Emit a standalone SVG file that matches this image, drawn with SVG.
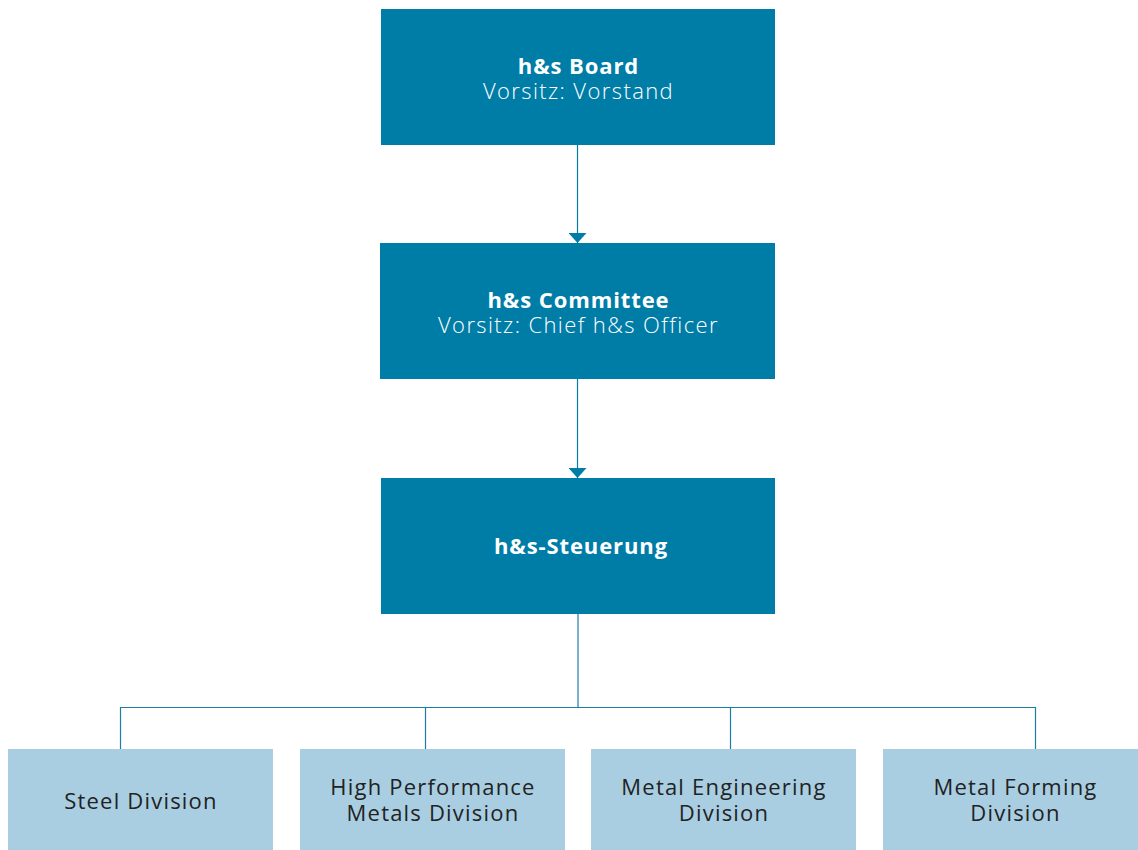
<svg xmlns="http://www.w3.org/2000/svg" width="1138" height="850" viewBox="0 0 1138 850">
<style>
.dark{fill:#007DA7}
.light{fill:#A9CEE2}
.t{font-family:"Open Sans",Lato,sans-serif;font-size:22px;text-anchor:middle}
.w{fill:#ffffff}
.b{font-weight:700;letter-spacing:0.9px}
.l{font-weight:300;letter-spacing:1.4px}
.k{fill:#222222;font-weight:400;letter-spacing:1.2px}
.c{stroke:#1B7FA5;stroke-width:1.2;fill:none}
.a{stroke:#007DA7;stroke-width:1.2;fill:none}
</style>
<defs>
<marker id="ah" markerWidth="10" markerHeight="18" refX="10" refY="9" orient="auto" markerUnits="userSpaceOnUse" viewBox="0 0 10 18">
<path d="M0,0 L10,9 L0,18 Z" fill="#007DA7"/>
</marker>
</defs>
<g id="connectors">
<line class="a" x1="577.5" y1="145" x2="577.5" y2="243" marker-end="url(#ah)"/>
<line class="a" x1="577.5" y1="379" x2="577.5" y2="478" marker-end="url(#ah)"/>
<line class="c" x1="578" y1="614" x2="578" y2="707.5"/>
<polyline class="c" points="120.5,749 120.5,707.5 1035.5,707.5 1035.5,749"/>
<line class="c" x1="425.5" y1="707.5" x2="425.5" y2="749"/>
<line class="c" x1="730.5" y1="707.5" x2="730.5" y2="749"/>
</g>
<g id="board">
<rect class="dark" x="381" y="9" width="394" height="136"/>
<text class="t w b" x="578.5" y="74">h&amp;s Board</text>
<text class="t w l" x="578.5" y="99">Vorsitz: Vorstand</text>
</g>
<g id="committee">
<rect class="dark" x="380" y="243" width="395" height="136"/>
<text class="t w b" x="578.5" y="308">h&amp;s Committee</text>
<text class="t w l" x="578.5" y="333">Vorsitz: Chief h&amp;s Officer</text>
</g>
<g id="steuerung">
<rect class="dark" x="381" y="478" width="394" height="136"/>
<text class="t w b" x="581" y="554">h&amp;s-Steuerung</text>
</g>
<g id="steel">
<rect class="light" x="8" y="749" width="265" height="101"/>
<text class="t k" x="141" y="809">Steel Division</text>
</g>
<g id="hpm">
<rect class="light" x="300" y="749" width="265" height="101"/>
<text class="t k" x="433" y="795">High Performance</text>
<text class="t k" x="433" y="821">Metals Division</text>
</g>
<g id="engineering">
<rect class="light" x="591" y="749" width="265" height="101"/>
<text class="t k" x="724" y="795">Metal Engineering</text>
<text class="t k" x="724" y="821">Division</text>
</g>
<g id="forming">
<rect class="light" x="883" y="749" width="255" height="101"/>
<text class="t k" x="1015.5" y="795">Metal Forming</text>
<text class="t k" x="1015.5" y="821">Division</text>
</g>
</svg>
